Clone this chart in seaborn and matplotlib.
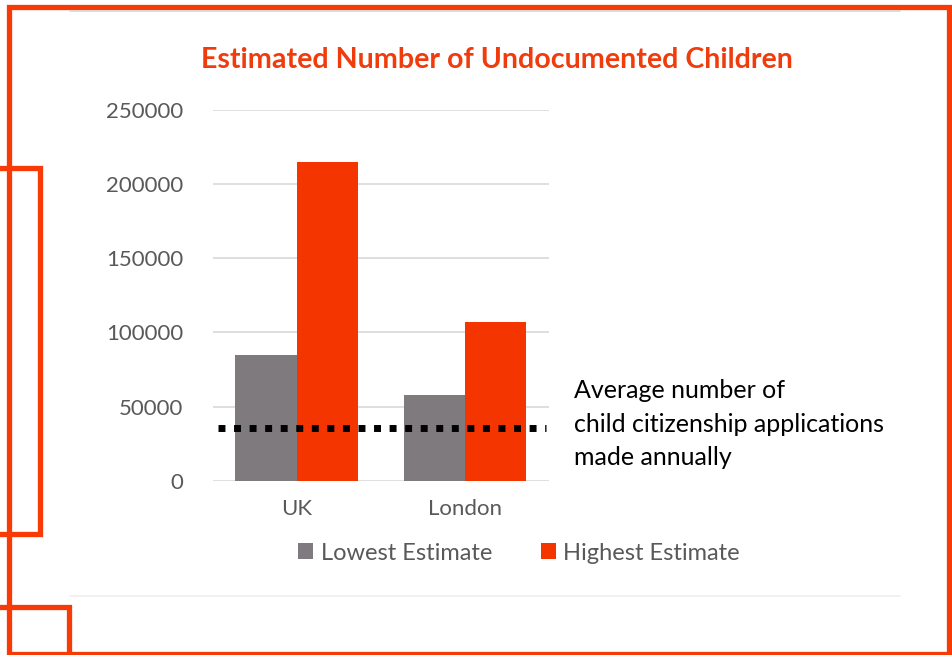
import pandas as pd
import matplotlib
matplotlib.use("Agg")
import matplotlib.pyplot as plt
import seaborn as sns
from matplotlib.patches import Rectangle

# values
regions = ["UK", "London"]
lowest_estimate = [85000, 58000]
highest_estimate = [215000, 107000]
series_names = ["Lowest Estimate", "Highest Estimate"]
avg_applications = 35500
y_ticks = [0, 50000, 100000, 150000, 200000, 250000]

df = pd.DataFrame({
    "Region": regions * 2,
    "Estimate": [series_names[0]] * 2 + [series_names[1]] * 2,
    "Children": lowest_estimate + highest_estimate,
})

sns.set_theme(style="white")
plt.rcParams["font.family"] = ["Lato", "DejaVu Sans"]

GREY_TXT = "#595959"
RED = "#f53500"

fig = plt.figure(figsize=(9.53, 6.55), dpi=100)
ax = fig.add_axes([0.2232, 0.2661, 0.3529, 0.5659])

sns.barplot(data=df, x="Region", y="Children", hue="Estimate",
            palette={"Lowest Estimate": "#7f7a7d", "Highest Estimate": RED},
            width=0.73, gap=0, linewidth=0, saturation=1, ax=ax)

# dotted reference line for yearly applications
ax.axhline(avg_applications, xmin=0.016, xmax=0.99, color="black",
           lw=5.0, dashes=(1, 1.24), dash_capstyle="butt", zorder=4)

ax.set_xlim(-0.5, 1.5)
ax.set_ylim(0, 250000)
ax.set_yticks(y_ticks)
ax.set_yticklabels([str(v) for v in y_ticks])
ax.set_xlabel("")
ax.set_ylabel("")
ax.yaxis.grid(True, color="#d9d9d9", lw=1.2)
ax.set_axisbelow(True)
sns.despine(ax=ax, left=True, bottom=True)
ax.tick_params(axis="y", length=0, pad=21, labelsize=16, labelcolor=GREY_TXT)
ax.tick_params(axis="x", length=0, pad=13, labelsize=16, labelcolor=GREY_TXT)

sns.move_legend(ax, "center", bbox_to_anchor=(0.5446, 0.1557),
                bbox_transform=fig.transFigure, ncol=2, frameon=False,
                title=None, fontsize=17, handlelength=0.64, handleheight=0.64,
                handletextpad=0.3, columnspacing=2.07)
for t in ax.get_legend().get_texts():
    t.set_color(GREY_TXT)

fig.text(0.5215, 1 - 60 / 655, "Estimated Number of Undocumented Children",
         ha="center", va="center", color="#f03c0c", fontsize=20.6, fontweight="bold")

fig.text(574 / 953, 1 - 424 / 655,
         "Average number of\nchild citizenship applications\nmade annually",
         ha="left", va="center", color="black", fontsize=18, linespacing=1.55)

# slide decoration: frame boxes and thin rules, in pixel coordinates
deco = fig.add_axes([0, 0, 1, 1], zorder=5)
deco.set_xlim(0, 953)
deco.set_ylim(655, 0)
deco.axis("off")
deco.patch.set_alpha(0)
deco.plot([70, 900], [11, 11], color="#d4d4d4", lw=1.2)
deco.plot([70, 900], [596, 596], color="#efefef", lw=1.2)
for x0, y0, w, h in [(9.5, 6.5, 940, 647), (-20, 167.5, 59.5, 366), (-20, 606.5, 89.5, 80)]:
    deco.add_patch(Rectangle((x0, y0), w, h, fill=False, edgecolor="#f73a06", lw=3.8))

fig.savefig("out.png", dpi=100)
